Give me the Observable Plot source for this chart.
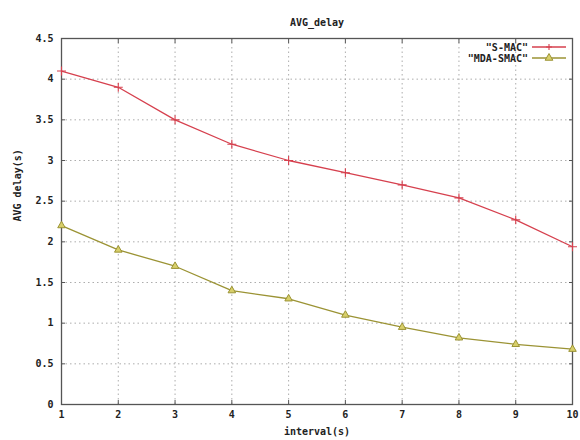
<!DOCTYPE html>
<html><head><meta charset="utf-8">
<script src="https://cdn.jsdelivr.net/npm/d3@7"></script>
<script src="https://cdn.jsdelivr.net/npm/@observablehq/plot@0.6"></script>
<style>
body{margin:0;background:#fff;}
svg text{font-family:"DejaVu Sans Mono",monospace;font-weight:bold;}
</style></head>
<body><div id="chart"></div>
<script>
const intervals = [1,2,3,4,5,6,7,8,9,10];
const smac = [4.1,3.9,3.5,3.2,3.0,2.85,2.7,2.54,2.27,1.94];
const mdaSmac = [2.2,1.9,1.7,1.4,1.3,1.1,0.95,0.82,0.74,0.68];
const seriesNames = ['"S-MAC"','"MDA-SMAC"'];
const seriesColors = ["#d6404e","#9b9334"];
const yTicks = [0,0.5,1,1.5,2,2.5,3,3.5,4,4.5];
const yTickLabels = ["0","0.5","1","1.5","2","2.5","3","3.5","4","4.5"];

const rows = [];
intervals.forEach((x,i)=>{rows.push({x,y:smac[i],s:seriesNames[0]});});
intervals.forEach((x,i)=>{rows.push({x,y:mdaSmac[i],s:seriesNames[1]});});
const r0 = rows.filter(d=>d.s===seriesNames[0]);
const r1 = rows.filter(d=>d.s===seriesNames[1]);
const blank = () => "";

const plot = Plot.plot({
  width:580, height:440,
  marginLeft:61, marginRight:8, marginTop:38, marginBottom:36,
  style:{fontSize:"10px", fontFamily:"DejaVu Sans Mono", fontWeight:"bold", color:"#222", background:"#fff"},
  x:{domain:[1,10], ticks:intervals, label:null},
  y:{domain:[0,4.5], ticks:yTicks, label:null},
  marks:[
    Plot.gridX(intervals.slice(1,-1),{stroke:"#999", strokeOpacity:0.8, strokeDasharray:"1.5,3"}),
    Plot.gridY(yTicks.slice(1,-1),{stroke:"#999", strokeOpacity:0.8, strokeDasharray:"1.5,3"}),
    Plot.axisX(intervals,{anchor:"bottom", tickSize:-4, tickPadding:10, stroke:"#555", tickFormat:d=>String(d), fontSize:10}),
    Plot.axisX(intervals,{anchor:"top", tickSize:-4, stroke:"#555", tickFormat:blank}),
    Plot.axisY(yTicks,{anchor:"left", tickSize:-4, tickPadding:12, stroke:"#555", tickFormat:d=>yTickLabels[yTicks.indexOf(d)], fontSize:10}),
    Plot.axisY(yTicks,{anchor:"right", tickSize:-4, stroke:"#555", tickFormat:blank}),
    Plot.frame({stroke:"#555", strokeWidth:1.3}),
    Plot.line(r1,{x:"x", y:"y", stroke:seriesColors[1], strokeWidth:1.3}),
    Plot.dot(r1,{x:"x", y:"y", symbol:"triangle", r:2.8, stroke:seriesColors[1], fill:"#d8cf6a", strokeWidth:1}),
    Plot.line(r0,{x:"x", y:"y", stroke:seriesColors[0], strokeWidth:1.3}),
    Plot.dot(r0,{x:"x", y:"y", symbol:"plus", r:3, stroke:seriesColors[0], strokeWidth:1.1}),
    Plot.text(["AVG_delay"],{frameAnchor:"top", dy:-20, fontSize:10, fill:"#222"}),
    Plot.text(["interval(s)"],{frameAnchor:"bottom", dy:30, fontSize:10, fill:"#222"}),
    Plot.text(["AVG delay(s)"],{frameAnchor:"left", dx:-44, rotate:-90, fontSize:10, fill:"#222"})
  ]
});
document.getElementById("chart").appendChild(plot);

// legend inside top-right
const svg = d3.select(plot);
const xr = 572, legendRows = [47,58];
seriesNames.forEach((name,i)=>{
  const y = legendRows[i];
  svg.append("text").attr("x", xr-44).attr("y", y).attr("dy","0.35em")
    .attr("text-anchor","end").attr("font-size",10).attr("fill","#222").text(name);
  svg.append("line").attr("x1", xr-40).attr("x2", xr-6).attr("y1", y).attr("y2", y)
    .attr("stroke", seriesColors[i]).attr("stroke-width",1.3);
  const cx = xr-23;
  if(i===0){
    svg.append("path").attr("d",`M${cx-3},${y}H${cx+3}M${cx},${y-3}V${y+3}`)
      .attr("stroke",seriesColors[0]).attr("stroke-width",1.1);
  } else {
    svg.append("path").attr("d",d3.symbol(d3.symbolTriangle, 26)()).attr("transform",`translate(${cx},${y})`)
      .attr("stroke",seriesColors[1]).attr("fill","#d8cf6a");
  }
});
</script></body></html>
